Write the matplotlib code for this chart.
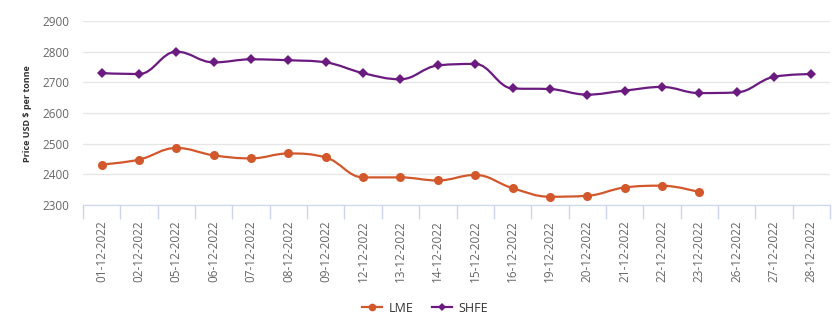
import matplotlib
matplotlib.use("Agg")
import matplotlib.pyplot as plt
from matplotlib.path import Path
from matplotlib.patches import PathPatch
from matplotlib.lines import Line2D
import numpy as np

dates = ["01-12-2022", "02-12-2022", "05-12-2022", "06-12-2022", "07-12-2022",
         "08-12-2022", "09-12-2022", "12-12-2022", "13-12-2022", "14-12-2022",
         "15-12-2022", "16-12-2022", "19-12-2022", "20-12-2022", "21-12-2022",
         "22-12-2022", "23-12-2022", "26-12-2022", "27-12-2022", "28-12-2022"]
lme = [2432, 2448, 2486, 2462, 2452, 2468, 2455, 2390, 2390, 2380,
       2398, 2355, 2327, 2330, 2357, 2363, 2342]
shfe = [2730, 2727, 2800, 2765, 2775, 2772, 2765, 2730, 2710, 2755,
        2760, 2680, 2678, 2660, 2673, 2685, 2665, 2667, 2718, 2727]
yticks = [2300, 2400, 2500, 2600, 2700, 2800, 2900]

LME_C = "#d2572a"
SHFE_C = "#6b1a80"

plt.rcParams['font.family'] = ['Open Sans', 'DejaVu Sans']


def spline_path(xs, ys, smoothing=1.5):
    n = len(xs)
    denom = smoothing + 1
    verts = [(xs[0], ys[0])]
    codes = [Path.MOVETO]
    left = [None] * n
    rights = [None] * n
    for i in range(n):
        if 0 < i < n - 1:
            px, py = xs[i], ys[i]
            lx, ly = xs[i - 1], ys[i - 1]
            nx, ny = xs[i + 1], ys[i + 1]
            lcx = (smoothing * px + lx) / denom
            lcy = (smoothing * py + ly) / denom
            rcx = (smoothing * px + nx) / denom
            rcy = (smoothing * py + ny) / denom
            corr = ((rcy - lcy) * (rcx - px)) / (rcx - lcx) + py - rcy
            lcy += corr
            rcy += corr
            if lcy > ly and lcy > py:
                lcy = max(ly, py)
                rcy = 2 * py - lcy
            elif lcy < ly and lcy < py:
                lcy = min(ly, py)
                rcy = 2 * py - lcy
            if rcy > ny and rcy > py:
                rcy = max(ny, py)
                lcy = 2 * py - rcy
            elif rcy < ny and rcy < py:
                rcy = min(ny, py)
                lcy = 2 * py - rcy
            left[i] = (lcx, lcy)
            rights[i] = (rcx, rcy)
        else:
            left[i] = (xs[i], ys[i])
            rights[i] = (xs[i], ys[i])
    for i in range(1, n):
        verts += [rights[i - 1], left[i], (xs[i], ys[i])]
        codes += [Path.CURVE4] * 3
    return Path(verts, codes)


fig = plt.figure(figsize=(8.39, 3.31), dpi=100)
ax = fig.add_axes([83 / 839, 1 - 205 / 331, (830 - 83) / 839, (205 - 21) / 331])

x_all = np.arange(len(dates))
for vals, color, marker, ms in [(lme, LME_C, "o", 6.5), (shfe, SHFE_C, "D", 4.8)]:
    xs = x_all[:len(vals)].astype(float)
    p = spline_path(list(xs), list(map(float, vals)))
    ax.add_patch(PathPatch(p, facecolor="none", edgecolor=color, lw=1.6, zorder=3))
    ax.plot(xs, vals, linestyle="none", marker=marker, markersize=ms,
            color=color, markeredgewidth=0, zorder=4)

ax.set_xlim(-0.5, len(dates) - 0.5)
ax.set_ylim(2300, 2900)
ax.set_yticks(yticks)
ax.set_yticklabels([str(v) for v in yticks], fontsize=8.5, color="#666666")
ax.tick_params(axis="y", length=0, pad=10)
ax.yaxis.grid(True, color="#e6e6e6", lw=1)
ax.set_axisbelow(True)
for s in ["top", "right", "left"]:
    ax.spines[s].set_visible(False)
ax.spines["bottom"].set_color("#ccd6eb")

ax.set_xticks(x_all)
ax.set_xticklabels(dates, rotation=90, fontsize=8.5, color="#666666")
ax.tick_params(axis="x", length=0, pad=11)
ax.set_xticks(np.arange(len(dates) + 1) - 0.5, minor=True)
ax.tick_params(axis="x", which="minor", length=10, color="#ccd6eb", width=1)

fig.text(28 / 839, 1 - 114 / 331, "Price USD $ per tonne", rotation=90,
         ha="center", va="center", fontsize=6.5, fontweight="bold", color="#333333")

handles = [Line2D([], [], color=LME_C, marker="o", markersize=5.5, lw=1.6, markeredgewidth=0),
           Line2D([], [], color=SHFE_C, marker="D", markersize=4.5, lw=1.6, markeredgewidth=0)]
fig.legend(handles, ["LME", "SHFE"], loc="center", bbox_to_anchor=(425 / 839, 1 - 308 / 331),
           ncol=2, frameon=False, fontsize=9, handlelength=1.6, columnspacing=1.5,
           handletextpad=0.5, labelcolor="#333333")

fig.savefig("out.png", dpi=100)
